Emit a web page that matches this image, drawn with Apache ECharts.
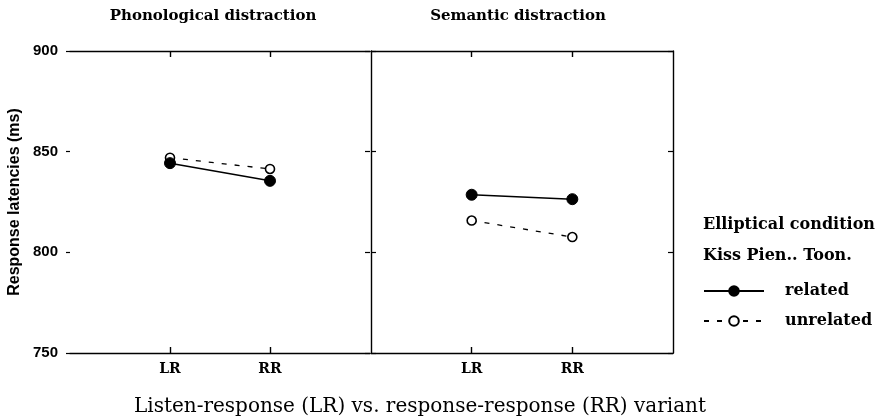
<!DOCTYPE html>
<html>
<head>
<meta charset="utf-8">
<script src="https://cdn.jsdelivr.net/npm/echarts@6/dist/echarts.min.js"></script>
<style>
html,body{margin:0;padding:0;background:#fff;}
#chart{width:876px;height:420px;}
</style>
</head>
<body>
<div id="chart"></div>
<script>
// ---- data ----
const xSlots = ['start', 'LR', 'RR', 'end'];
const xTickLabels = ['LR', 'RR'];
const yTicks = [750, 800, 850, 900];
const phonRelated = [844.3, 835.5];
const phonUnrelated = [847.0, 841.4];
const semRelated = [828.6, 826.4];
const semUnrelated = [815.8, 807.6];
const panelTitles = ['Phonological distraction', 'Semantic distraction'];
const seriesNames = ['related', 'unrelated'];
const yTitle = 'Response latencies (ms)';
const xTitle = 'Listen-response (LR) vs. response-response (RR) variant';
const legendTitle = ['Elliptical condition', 'Kiss Pien.. Toon.'];

const serif = '"DejaVu Serif", serif';
const sans = '"Liberation Sans", Arial, sans-serif';
const isTick = (i, v) => xTickLabels.indexOf(v) >= 0;
const pair = vals => xTickLabels.map((c, i) => [c, vals[i]]);

function xAx(gridIndex, position, showLabel) {
  return {
    type: 'category', gridIndex, position, data: xSlots, boundaryGap: false,
    axisLine: {show: true, lineStyle: {color: '#000', width: 1.4}},
    axisTick: {show: true, inside: true, length: 6, interval: isTick, lineStyle: {color: '#000', width: 1.4}},
    axisLabel: {show: showLabel, interval: isTick, margin: 9,
      formatter: v => xTickLabels.indexOf(v) >= 0 ? v : '',
      fontFamily: serif, fontWeight: 'bold', fontSize: 14, color: '#000'},
    splitLine: {show: false}
  };
}
function yAx(gridIndex, position, opts) {
  return Object.assign({
    type: 'value', gridIndex, position, min: yTicks[0], max: yTicks[yTicks.length - 1], interval: 50,
    axisLine: {show: false, lineStyle: {color: '#000', width: 1.4}},
    axisTick: {show: true, inside: true, length: 5, lineStyle: {color: '#000', width: 1.2}},
    axisLabel: {show: false},
    splitLine: {show: false}
  }, opts);
}

const relatedStyle = {
  type: 'line', symbol: 'circle', symbolSize: 11, z: 3,
  itemStyle: {color: '#000', borderColor: '#000', borderWidth: 1},
  lineStyle: {color: '#000', width: 1.5, type: 'solid'}
};
const unrelatedStyle = {
  type: 'line', symbol: 'circle', symbolSize: 9, z: 2,
  itemStyle: {color: '#fff', borderColor: '#000', borderWidth: 1.6},
  lineStyle: {color: '#000', width: 1.3, type: [5, 8]}
};

const chart = echarts.init(document.getElementById('chart'), null, {renderer: 'canvas'});
chart.setOption({
  animation: false,
  backgroundColor: '#fff',
  grid: [
    {left: 70, top: 51, width: 300, height: 302},
    {left: 371, top: 51, width: 302, height: 302}
  ],
  xAxis: [
    xAx(0, 'bottom', true), xAx(0, 'top', false),
    xAx(1, 'bottom', true), xAx(1, 'top', false)
  ],
  yAxis: [
    yAx(0, 'left', {
      axisTick: {show: true, inside: false, length: 4, lineStyle: {color: '#000', width: 1.2}},
      axisLabel: {show: true, margin: 12, fontFamily: sans, fontWeight: 'bold', fontSize: 15, color: '#000'},
      name: yTitle, nameLocation: 'middle', nameGap: 47, nameRotate: 90,
      nameTextStyle: {fontFamily: sans, fontWeight: 'bold', fontSize: 16, color: '#000'}
    }),
    yAx(0, 'right', {}),
    yAx(1, 'left', {axisLine: {show: true, lineStyle: {color: '#000', width: 1.4}}}),
    yAx(1, 'right', {axisLine: {show: true, lineStyle: {color: '#000', width: 1.4}}})
  ],
  legend: {
    orient: 'vertical', left: 703, top: 283, padding: 0, itemWidth: 60, itemHeight: 12, itemGap: 14,
    data: seriesNames,
    textStyle: {fontFamily: serif, fontWeight: 'bold', fontSize: 16, color: '#000', padding: [0, 0, 0, 16]}
  },
  graphic: [
    {type: 'text', x: 213, y: 16, style: {text: panelTitles[0], align: 'center', verticalAlign: 'middle', font: 'bold 15px ' + serif, fill: '#000'}},
    {type: 'text', x: 518, y: 16, style: {text: panelTitles[1], align: 'center', verticalAlign: 'middle', font: 'bold 15px ' + serif, fill: '#000'}},
    {type: 'text', x: 420, y: 407, style: {text: xTitle, align: 'center', verticalAlign: 'middle', font: '20px ' + serif, fill: '#000'}},
    {type: 'text', x: 703, y: 225, style: {text: legendTitle[0], align: 'left', verticalAlign: 'middle', font: 'bold 16px ' + serif, fill: '#000'}},
    {type: 'text', x: 703, y: 256, style: {text: legendTitle[1], align: 'left', verticalAlign: 'middle', font: 'bold 16px ' + serif, fill: '#000'}}
  ],
  series: [
    Object.assign({name: seriesNames[1], xAxisIndex: 0, yAxisIndex: 0, data: pair(phonUnrelated)}, unrelatedStyle),
    Object.assign({name: seriesNames[0], xAxisIndex: 0, yAxisIndex: 0, data: pair(phonRelated)}, relatedStyle),
    Object.assign({name: seriesNames[1], xAxisIndex: 2, yAxisIndex: 2, data: pair(semUnrelated)}, unrelatedStyle),
    Object.assign({name: seriesNames[0], xAxisIndex: 2, yAxisIndex: 2, data: pair(semRelated)}, relatedStyle)
  ]
});
</script>
</body>
</html>
